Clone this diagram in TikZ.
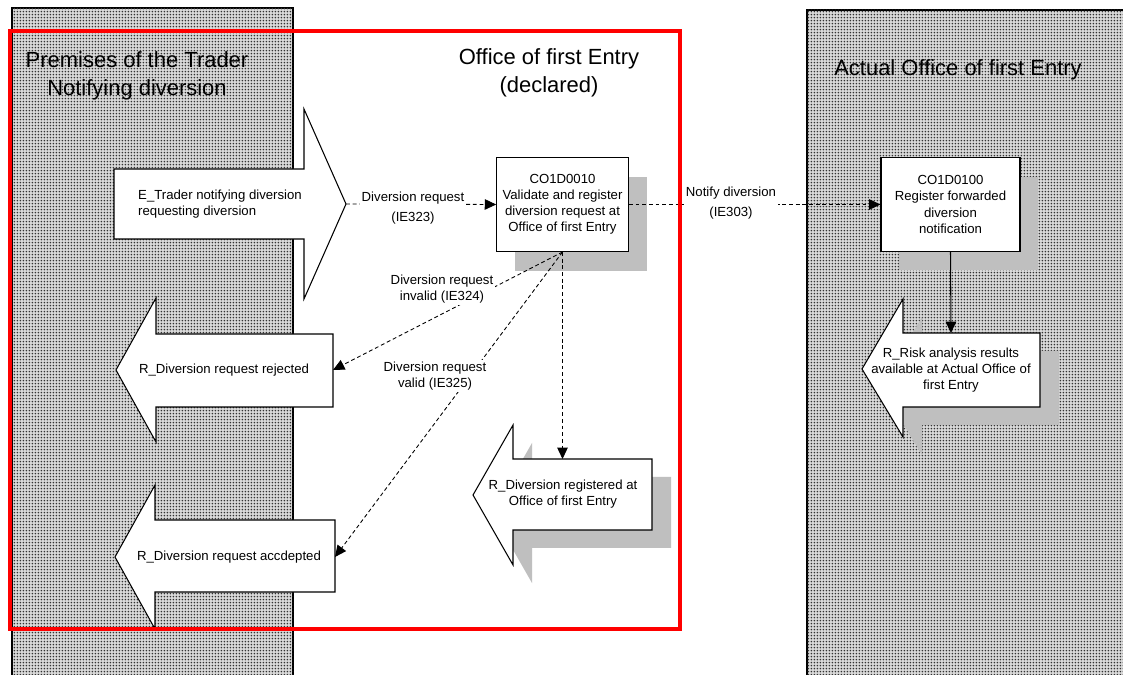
\documentclass[tikz,border=0pt]{standalone}
\usepackage{fontspec}
\setmainfont{Liberation Sans}
\usetikzlibrary{arrows.meta,patterns.meta}

\tikzdeclarepattern{
  name=lanedots,
  tile size={(1.9pt,1.9pt)},
  bottom left={(0pt,0pt)},
  top right={(1.9pt,1.9pt)},
  code={\fill (0.95pt,0.95pt) circle [radius=0.6pt];}
}

\begin{document}
\begin{tikzpicture}[x=0.02cm,y=-0.02cm,
  lane/.style={draw=black,line width=0.6pt,fill=gray!30,postaction={pattern=lanedots,pattern color=black!80}},
  title/.style={align=center,font=\fontsize{12.5}{16}\selectfont},
  txt/.style={align=center,inner sep=0pt,font=\fontsize{7.5}{9.2}\selectfont},
  procbox/.style={draw=black,line width=0.6pt,fill=white,align=center,font=\fontsize{7.5}{9.2}\selectfont},
  outl/.style={draw=black,line width=0.6pt,fill=white},
  shade/.style={fill=black!25},
  lbl/.style={fill=white,align=center,inner sep=1pt,font=\fontsize{7.5}{9.2}\selectfont},
  msg/.style={dash pattern=on 2.2pt off 1.6pt,line width=0.5pt,-{Triangle[length=6.5pt,width=6pt]}},
  flow/.style={line width=0.6pt,-{Triangle[length=6.5pt,width=6pt]}}]
 \useasboundingbox (0,0) rectangle (1123,675);
 \fill[white] (0,0) rectangle (1123,675);
 \path[lane] (12,8) rectangle (293,690);
 \path[lane] (807,10) rectangle (1135,690);
 \node[title] (tprem) at (137,76) {Premises of the Trader\\Notifying diversion};
 \node[title] (toff) at (549,73) {Office of first Entry\\(declared)};
 \node[title] (tact) at (958,70) {Actual Office of first Entry};

 \draw[outl] (114,169) -- (304,169) -- (304,109) -- (346,204) -- (304,299) -- (304,239) -- (114,239) -- cycle;
 \node[txt,align=left] (etr) at (220,204) {E\_Trader notifying diversion\\requesting diversion};
 \coordinate (etrtip) at (346,204);

 \draw[outl] (333,334) -- (156,334) -- (156,298) -- (116,370) -- (156,442) -- (156,407) -- (333,407) -- cycle;
 \node[txt] (rej) at (224,370) {R\_Diversion request rejected};
 \coordinate (rejR) at (333,370);

 \draw[outl] (335,520) -- (155,520) -- (155,485) -- (115,557) -- (155,629) -- (155,592) -- (335,592) -- cycle;
 \node[txt] (acc) at (229,557) {R\_Diversion request accdepted};
 \coordinate (accR) at (335,557);

 \fill[shade] (532,477) -- (532,443) -- (492,513) -- (532,583) -- (532,548) -- (671,548) -- (671,477) -- cycle;
 \draw[outl] (652,459) -- (513,459) -- (513,425) -- (473,495) -- (513,565) -- (513,530) -- (652,530) -- cycle;
 \node[txt] (reg) at (563,494) {R\_Diversion registered at\\Office of first Entry};
 \coordinate (regT) at (562.5,459);

 \fill[shade] (922,351) -- (922,317) -- (881,387) -- (922,455) -- (922,425) -- (1059,425) -- (1059,351) -- cycle;
 \draw[outl] (1040,333) -- (903,333) -- (903,299) -- (862,369) -- (903,437) -- (903,407) -- (1040,407) -- cycle;
 \node[txt] (risk) at (951,370) {R\_Risk analysis results\\available at Actual Office of\\first Entry};
 \coordinate (riskT) at (951,333);

 \fill[shade] (515,177) rectangle (647,271);
 \node[procbox,minimum width=2.62cm,minimum height=1.88cm] (val) at (562.5,204.5) {CO1D0010\\Validate and register\\diversion request at\\Office of first Entry};
 \fill[shade] (899,177) rectangle (1038,270);
 \node[procbox,minimum width=2.78cm,minimum height=1.88cm] (fwd) at (950.5,204.5) {CO1D0100\\Register forwarded\\diversion\\notification};

 \draw[msg] (etrtip) -- (val.west);
 \node[lbl] (l323) at (413,208) {Diversion request\\[2.5pt](IE323)};
 \draw[msg] (val.east) -- (fwd.west);
 \node[lbl] (l303) at (731,203) {Notify diversion\\[2pt](IE303)};
 \draw[msg] (val.south) -- (rejR);
 \node[lbl] (l324) at (442,289) {Diversion request\\invalid (IE324)};
 \draw[msg] (val.south) -- (accR);
 \node[lbl] (l325) at (435,376) {Diversion request\\valid (IE325)};
 \draw[msg] (val.south) -- (regT);
 \draw[flow] (fwd.south) -- (riskT);

 \draw[red,line width=2.8pt] (10,31) rectangle (680,629);
\end{tikzpicture}
\end{document}
